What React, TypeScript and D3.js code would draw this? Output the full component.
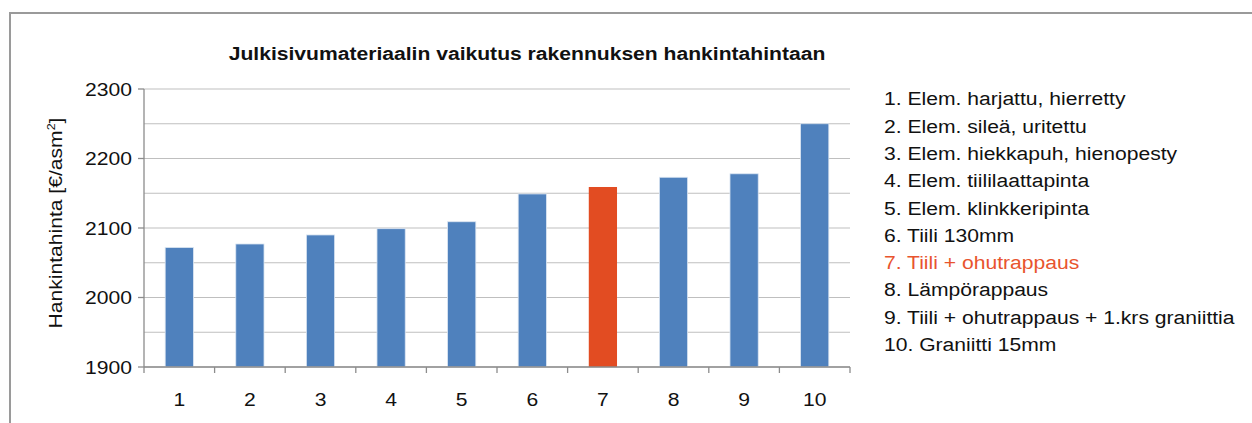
import React from "react";
import * as d3 from "d3";

const WIDTH = 1252;
const HEIGHT = 423;
const MARGIN = { top: 89, right: 402, bottom: 56, left: 144 };

const TITLE = "Julkisivumateriaalin vaikutus rakennuksen hankintahintaan";
const categories = ["1", "2", "3", "4", "5", "6", "7", "8", "9", "10"];
const values = [2072, 2077, 2090, 2099, 2109, 2149, 2159, 2173, 2178, 2250];
const legendLabels = [
  "1. Elem. harjattu, hierretty",
  "2. Elem. sileä, uritettu",
  "3. Elem. hiekkapuh, hienopesty",
  "4. Elem. tiililaattapinta",
  "5. Elem. klinkkeripinta",
  "6. Tiili 130mm",
  "7. Tiili + ohutrappaus",
  "8. Lämpörappaus",
  "9. Tiili + ohutrappaus + 1.krs graniittia",
  "10. Graniitti 15mm",
];
const highlighted = "7";
const yDomain = [1900, 2300];

const BLUE = "#4f81bd";
const RED = "#e24c22";
const RED_TEXT = "#e8542e";
const FONT = "'Liberation Sans', Arial, Helvetica, sans-serif";
const FS = 18.6;
const SX = 1.135; // text in the picture is a bit wider than Arial

// small helper: text stretched a little horizontally
const Txt = ({ x, y, anchor = "start", fill = "#111", bold = false, children }: any) => (
  <g transform={`translate(${x},${y}) scale(${SX},1)`}>
    <text
      x={0}
      y={0}
      textAnchor={anchor}
      fontFamily={FONT}
      fontSize={FS}
      fontWeight={bold ? "bold" : "normal"}
      fill={fill}
    >
      {children}
    </text>
  </g>
);

export default function App() {
  const boundsWidth = WIDTH - MARGIN.left - MARGIN.right;
  const boundsHeight = HEIGHT - MARGIN.top - MARGIN.bottom;

  const xScale = d3.scaleBand().domain(categories).range([0, boundsWidth]).padding(0);
  const yScale = d3.scaleLinear().domain(yDomain).range([boundsHeight, 0]);

  const gridValues = yScale.ticks(8);
  const labelValues = yScale.ticks(4);
  const barW = xScale.bandwidth() * 0.4;
  const capHalf = FS * 0.716 / 2;

  const tickXs = [...categories.map((c) => xScale(c) ?? 0), boundsWidth];

  return (
    <svg width={WIDTH} height={HEIGHT} style={{ position: "absolute", left: 0, top: 0, background: "#fff" }}>
      <rect x={10} y={13} width={1400} height={600} fill="none" stroke="#9a9a9a" strokeWidth={2} />

      <Txt x={527} y={60} anchor="middle" bold>
        {TITLE}
      </Txt>

      <g transform={`translate(${MARGIN.left},${MARGIN.top})`}>
        {gridValues.map((v) => (
          <line key={v} x1={0} x2={boundsWidth} y1={yScale(v)} y2={yScale(v)} stroke="#bfbfbf" strokeWidth={1.2} />
        ))}

        {categories.map((c, i) => {
          const x = (xScale(c) ?? 0) + xScale.bandwidth() / 2 - barW / 2;
          const y = yScale(values[i]);
          return (
            <rect
              key={c}
              x={x}
              y={y}
              width={barW}
              height={boundsHeight - y}
              fill={c === highlighted ? RED : BLUE}
              stroke={c === highlighted ? "none" : "#dce6f2"}
              strokeWidth={0.8}
            />
          );
        })}

        <line x1={0} x2={0} y1={0} y2={boundsHeight} stroke="#8c8c8c" strokeWidth={1.3} />
        <line x1={0} x2={boundsWidth} y1={boundsHeight} y2={boundsHeight} stroke="#8c8c8c" strokeWidth={1.3} />

        {labelValues.map((v) => (
          <g key={v}>
            <line x1={-6} x2={0} y1={yScale(v)} y2={yScale(v)} stroke="#8c8c8c" strokeWidth={1.3} />
            <Txt x={-12} y={yScale(v) + capHalf} anchor="end">
              {v}
            </Txt>
          </g>
        ))}

        {tickXs.map((x, i) => (
          <line key={i} x1={x} x2={x} y1={boundsHeight} y2={boundsHeight + 6} stroke="#8c8c8c" strokeWidth={1.3} />
        ))}

        {categories.map((c) => (
          <Txt key={c} x={(xScale(c) ?? 0) + xScale.bandwidth() / 2} y={boundsHeight + 38.5} anchor="middle">
            {c}
          </Txt>
        ))}
      </g>

      <g transform={`translate(62,223) rotate(-90) scale(${SX},1)`}>
        <text x={0} y={0} textAnchor="middle" fontFamily={FONT} fontSize={FS} fill="#111">
          Hankintahinta [€/asm
          <tspan fontSize={11} dy={-7}>2</tspan>
          <tspan dy={7}>]</tspan>
        </text>
      </g>

      {legendLabels.map((label, i) => (
        <Txt key={label} x={884} y={105.3 + i * 27.3} fill={categories[i] === highlighted ? RED_TEXT : "#111"}>
          {label}
        </Txt>
      ))}
    </svg>
  );
}
